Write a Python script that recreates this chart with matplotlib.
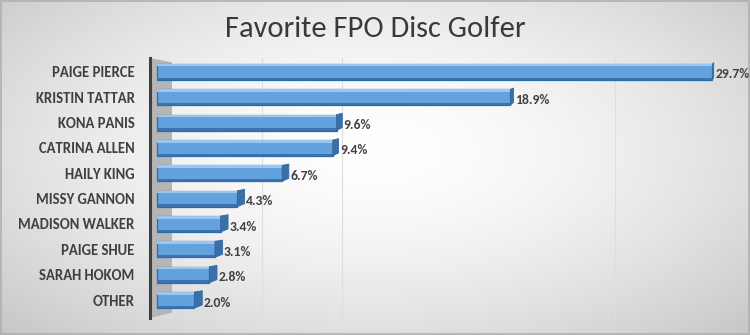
import numpy as np
import matplotlib
matplotlib.use("Agg")
import matplotlib.pyplot as plt
from matplotlib import font_manager as fm
from matplotlib.patches import Polygon, Rectangle

players = ["PAIGE PIERCE", "KRISTIN TATTAR", "KONA PANIS", "CATRINA ALLEN",
           "HAILY KING", "MISSY GANNON", "MADISON WALKER", "PAIGE SHUE",
           "SARAH HOKOM", "OTHER"]
shares = [29.7, 18.9, 9.6, 9.4, 6.7, 4.3, 3.4, 3.1, 2.8, 2.0]
share_labels = ["29.7%", "18.9%", "9.6%", "9.4%", "6.7%", "4.3%", "3.4%",
                "3.1%", "2.8%", "2.0%"]
title = "Favorite FPO Disc Golfer"

available = {f.name for f in fm.fontManager.ttflist}
family = next((f for f in ["Carlito", "Cabin Condensed", "Lato"] if f in available),
              "DejaVu Sans")
plt.rcParams["font.family"] = [family, "DejaVu Sans"]
text_color = "#404040"

fig = plt.figure(figsize=(7.5, 3.35), dpi=100)

# soft grey radial backdrop
bg = fig.add_axes([0, 0, 1, 1], zorder=-10)
yy, xx = np.mgrid[0:335, 0:750]
r = np.sqrt(((xx - 375) / 520.0) ** 2 + ((yy - 150) / 260.0) ** 2)
shade = 1.0 - 0.22 * np.clip(r, 0, 1.2) ** 1.6
bg.imshow(np.dstack([shade, shade, shade]), aspect="auto", extent=[0, 1, 0, 1],
          vmin=0, vmax=1)
bg.add_patch(Rectangle((0.001, 0.002), 0.997, 0.995, fill=False,
                       edgecolor="#b0b0b0", lw=1.2, transform=bg.transAxes))
bg.set_axis_off()

ax = fig.add_axes([150 / 750, 1 - 318 / 335, 580 / 750, 260 / 335])
ax.patch.set_alpha(0)
ax.set_xlim(-0.374, 30.64)
ax.set_ylim(9.71, -0.55)

y = np.arange(len(players))
h = 0.63

# left wall of the 3D plot area
ax.add_patch(Polygon([[-0.374, -0.55], [0.8, -0.38], [0.8, 9.5], [-0.374, 9.71]],
                     closed=True, facecolor="#b5b5b5", edgecolor="none", zorder=0))

# faint back-wall gridlines
for gx in [5.6, 9.9, 24.5]:
    ax.axvline(gx, color="#dedede", lw=0.8, zorder=0.5)

face = "#64a2de"
edge = "#2f6aa8"
cap = "#3c6fa6"
ax.barh(y, shares, height=h, left=0.0, color=face, edgecolor=edge, lw=0.9, zorder=2)
cap_widths = []
for yi, v in zip(y, shares):
    # lighter top face and darker underside
    ax.add_patch(Rectangle((0.0, yi - h / 2), v, 0.1, facecolor="#9cc6ee",
                           edgecolor="none", zorder=3))
    ax.add_patch(Rectangle((0.0, yi + h / 2 - 0.09), v, 0.09, facecolor="#3a72b2",
                           edgecolor="none", zorder=3))
    # right end face, narrower for the longer bars (perspective)
    d = 0.45 * max(0.15, 1 - v / 30.0)
    cap_widths.append(d)
    ax.add_patch(Polygon([[v, yi - h / 2], [v + d, yi - h / 2 - 0.05],
                          [v + d, yi + h / 2 - 0.12], [v, yi + h / 2]],
                         closed=True, facecolor=cap, edgecolor=edge, lw=0.6, zorder=3))

for yi, v, d, lab in zip(y, shares, cap_widths, share_labels):
    ax.text(v + d + 0.08, yi + 0.1, lab, va="center", ha="left", fontsize=9.8,
            fontweight="bold", color=text_color, zorder=4)

ax.set_yticks(y)
ax.set_yticklabels(players, fontsize=10.5, fontweight="bold", color=text_color)
ax.tick_params(axis="y", length=0, pad=11)
ax.set_xticks([])
for s in ["top", "right", "bottom"]:
    ax.spines[s].set_visible(False)
ax.spines["left"].set_color("#404040")
ax.spines["left"].set_linewidth(2.2)

fig.text(0.5, 1 - 29 / 335, title, ha="center", va="center", fontsize=22,
         color="#3a3a3a")

fig.savefig("out.png", dpi=100)
